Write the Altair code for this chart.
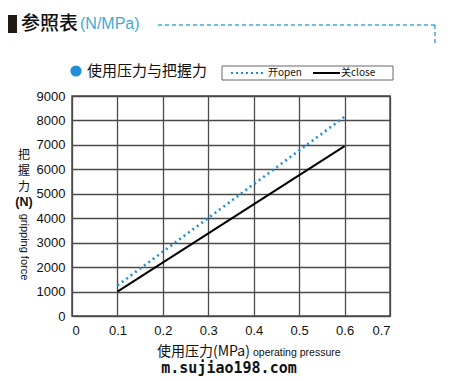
import altair as alt
import pandas as pd

pressure = [0.1, 0.6]
open_force = [1250, 8150]
close_force = [1000, 6950]
x_ticks = [0, 0.1, 0.2, 0.3, 0.4, 0.5, 0.6, 0.7]
y_ticks = [0, 1000, 2000, 3000, 4000, 5000, 6000, 7000, 8000, 9000]

OX, OY = 72, 96  # page position of plot origin
def px(x): return x - OX
def py(y): return y - OY

df = pd.DataFrame({
    "p": pressure * 2,
    "f": open_force + close_force,
    "s": ["open"] * 2 + ["close"] * 2,
})

GRID = "#4a4a4a"
BLUE = "#1f8fd8"
LBLUE = "#3fa9d8"
FONT = "Liberation Sans"
CJK = "Noto Sans CJK SC"

x = alt.X("p:Q", scale=alt.Scale(domain=[0, 0.7], nice=False),
          axis=alt.Axis(values=x_ticks, title=None, grid=True, ticks=False,
                        labelFontSize=13, labelFont=FONT, labelColor="#111", labelPadding=8,
                        domain=False, gridColor=GRID, gridWidth=1.3, gridOpacity=1,
                        labelExpr="datum.value == 0 ? '0' : format(datum.value, '.1f')"))
y = alt.Y("f:Q", scale=alt.Scale(domain=[0, 9000], nice=False),
          axis=alt.Axis(values=y_ticks, title=None, grid=True, ticks=False, format="d",
                        labelFontSize=13, labelFont=FONT, labelColor="#111", labelPadding=7,
                        domain=False, gridColor=GRID, gridWidth=1.3, gridOpacity=1))

open_line = alt.Chart(df).transform_filter(alt.datum.s == "open").mark_line(
    color=BLUE, strokeWidth=2.6, strokeDash=[2, 3.5]).encode(x=x, y=y)
close_line = alt.Chart(df).transform_filter(alt.datum.s == "close").mark_line(
    color="black", strokeWidth=2).encode(x=x, y=y)

one = pd.DataFrame({"a": [0]})

def txt(t, x0, y0, size, color="#111", font=CJK, align="left", weight="normal", angle=0):
    kw = dict(text=t, fontSize=size, color=color, font=font, align=align,
              baseline="middle", fontWeight=weight)
    if angle:
        kw["angle"] = angle
    return alt.Chart(one).mark_text(**kw).encode(x=alt.value(px(x0)), y=alt.value(py(y0)))

def rule(x0, y0, x1, y1, color, width, dash=None):
    kw = dict(color=color, strokeWidth=width)
    if dash:
        kw["strokeDash"] = dash
    return alt.Chart(one).mark_rule(**kw).encode(
        x=alt.value(px(x0)), x2=alt.value(px(x1)), y=alt.value(py(y0)), y2=alt.value(py(y1)))

def rect(x0, y0, x1, y1, fill, stroke=None, sw=1):
    kw = dict(fill=fill)
    if stroke:
        kw.update(stroke=stroke, strokeWidth=sw)
    return alt.Chart(one).mark_rect(**kw).encode(
        x=alt.value(px(x0)), x2=alt.value(px(x1)), y=alt.value(py(y0)), y2=alt.value(py(y1)))

border = rect(72, 96, 390, 316, "transparent", GRID, 1.5)

deco = [
    rect(8, 15, 17, 33, "#231815"),
    txt("参照表", 21, 24, 19, "#111", weight=500),
    txt("(N/MPa)", 80, 24, 16, LBLUE, FONT),
    rule(158, 25, 435, 25, LBLUE, 1.5, [4, 3]),
    rule(435, 25, 435, 45, LBLUE, 1.5, [4, 3]),
    alt.Chart(one).mark_point(filled=True, size=125, color=BLUE, opacity=1).encode(
        x=alt.value(px(76)), y=alt.value(py(71))),
    txt("使用压力与把握力", 87, 71, 15, "#111"),
    rect(222, 66, 393, 80, "white", "#666", 1),
    rule(231, 73, 263, 73, BLUE, 2, [2, 3]),
    txt("开open", 268, 73, 10),
    rule(313, 73, 340, 73, "black", 2),
    txt("关close", 341, 73, 10),
    txt("把", 24, 155, 12, align="center"),
    txt("握", 24, 171, 12, align="center"),
    txt("力", 24, 187, 12, align="center"),
    txt("(N)", 24, 202, 12.5, font=FONT, align="center", weight="bold"),
    txt("gripping force", 24, 247, 11, font=FONT, align="center", angle=90),
    txt("使用压力(MPa)", 157, 352, 14),
    txt("operating pressure", 253, 353, 10.5, font=FONT),
    txt("m.sujiao198.com", 229, 368, 15, "#111", "DejaVu Sans Mono", "center", "bold"),
]

chart = alt.layer(open_line, close_line, border, *deco).properties(
    width=318, height=220,
    padding={"left": 64, "top": 88, "right": 60, "bottom": 60},
    autosize=alt.AutoSizeParams(type="none"),
).configure_view(stroke=None)

chart.save("out.html", embed_options={"renderer": "svg", "actions": False})
